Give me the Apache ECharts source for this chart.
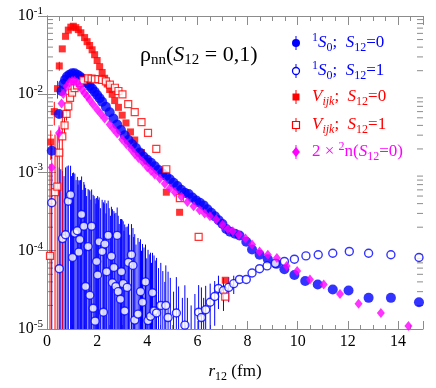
<!DOCTYPE html>
<html>
<head>
<meta charset="utf-8">
<script src="https://cdn.jsdelivr.net/npm/echarts@6/dist/echarts.min.js"></script>
<style>
  html, body { margin: 0; padding: 0; background: #fff; }
  #chart { width: 436px; height: 388px; }
</style>
</head>
<body>
<div id="chart"></div>
<script>
// ---- data (r12 in fm, rho_nn) ----
// 1S0 ; S12=0  (blue filled circles)
const rBF = [0.19, 0.48, 0.58, 0.65, 0.72, 0.8, 0.9, 1.0, 1.1, 1.2, 1.3, 1.4, 1.5, 1.6, 1.7, 1.8, 1.9, 2.0, 2.1, 2.2, 2.35, 2.5, 2.65, 2.8, 2.95, 3.1, 3.25, 3.4, 3.55, 3.7, 3.85, 4.0, 4.15, 4.3, 4.45, 4.6, 4.75, 4.9, 5.05, 5.2, 5.35, 5.5, 5.65, 5.8, 5.95, 6.1, 6.25, 6.4, 6.55, 6.7, 6.85, 7.0, 7.15, 7.3, 7.5, 7.68, 7.95, 8.18, 8.48, 8.81, 9.15, 9.47, 9.87, 10.3, 10.8, 11.4, 12.03, 12.83, 13.72, 14.84];
const vBF = [1.9e-3, 5.6e-3, 1.1e-2, 1.35e-2, 1.53e-2, 1.68e-2, 1.78e-2, 1.85e-2, 1.85e-2, 1.78e-2, 1.7e-2, 1.6e-2, 1.5e-2, 1.38e-2, 1.28e-2, 1.18e-2, 1.08e-2, 9.8e-3, 8.9e-3, 8.0e-3, 6.9e-3, 5.9e-3, 4.9e-3, 4.1e-3, 3.5e-3, 3.0e-3, 2.6e-3, 2.3e-3, 2.05e-3, 1.8e-3, 1.6e-3, 1.45e-3, 1.33e-3, 1.2e-3, 1.08e-3, 9.8e-4, 9.0e-4, 8.2e-4, 7.4e-4, 6.7e-4, 6.0e-4, 5.5e-4, 5.3e-4, 4.8e-4, 4.4e-4, 4.1e-4, 3.8e-4, 3.4e-4, 3.05e-4, 2.75e-4, 2.45e-4, 2.2e-4, 1.9e-4, 1.75e-4, 1.65e-4, 1.57e-4, 1.3e-4, 1.04e-4, 8.9e-5, 7.8e-5, 6.8e-5, 5.8e-5, 4.9e-5, 4.1e-5, 3.7e-5, 3.2e-5, 3.1e-5, 2.5e-5, 2.5e-5, 2.2e-5];
const sBF = [4e-4, 6e-4]; // errors of the first points

// 1S0 ; S12=1  (blue open circles)
const rBO = [0.19, 0.49, 0.62, 0.74, 0.85, 0.94, 1.02, 1.11, 1.21, 1.27, 1.31, 1.38, 1.47, 1.54, 1.64, 1.71, 1.78, 1.84, 1.92, 1.98, 2.02, 2.08, 2.2, 2.25, 2.31, 2.38, 2.44, 2.57, 2.61, 2.67, 2.75, 2.8, 2.84, 2.93, 2.97, 3.04, 3.1, 3.2, 3.25, 3.37, 3.43, 3.5, 3.63, 3.73, 3.81, 3.93, 4.03, 4.13, 4.21, 4.27, 4.37, 4.54, 4.74, 4.83, 5.16, 5.5, 6.05, 6.16, 6.33, 6.51, 6.69, 6.84, 7.04, 7.25, 7.45, 7.68, 7.95, 8.18, 8.48, 8.78, 9.11, 9.47, 9.87, 10.33, 10.82, 11.4, 12.06, 12.83, 13.72, 14.84];
const vBO = [4.1e-4, 5.9e-5, 1.43e-4, 1.6e-4, 4.3e-4, 5.2e-4, 8.2e-5, 1.68e-4, 1.8e-4, 9.6e-5, 1.39e-4, 2.9e-4, 2.06e-4, 3.5e-5, 1.13e-4, 2.7e-5, 2.06e-4, 1.84e-5, 1.26e-5, 7.3e-5, 4.9e-5, 1.3e-4, 9.8e-5, 1.64e-5, 1.22e-4, 5.4e-5, 1.57e-4, 8.5e-5, 3.9e-5, 6.1e-5, 3.5e-5, 1.57e-4, 3.0e-5, 2.4e-5, 5.4e-5, 3.8e-5, 1.7e-5, 3.4e-5, 7.1e-5, 8.9e-5, 6.5e-5, 1.3e-5, 1.55e-5, 3.0e-5, 2.2e-5, 4.0e-5, 1.28e-5, 1.45e-5, 2.9e-5, 1.7e-5, 1.6e-5, 2.0e-5, 2.0e-5, 1.4e-5, 1.6e-5, 1.12e-5, 1.64e-5, 1.4e-5, 1.76e-5, 2.2e-5, 2.6e-5, 3.3e-5, 3.1e-5, 3.4e-5, 3.8e-5, 4.3e-5, 4.3e-5, 5.2e-5, 5.9e-5, 6.4e-5, 6.9e-5, 7.3e-5, 7.8e-5, 8.6e-5, 8.9e-5, 9.3e-5, 9.8e-5, 9.3e-5, 8.9e-5, 8.2e-5];
const sBO = [6e-4, 1.1e-3, 9e-4, 1.0e-3, 8e-4, 7e-4, 9e-4, 8e-4, 7e-4, 7e-4, 6.5e-4, 6e-4, 5.5e-4, 6e-4, 5e-4, 5.5e-4, 4e-4, 5e-4, 4.5e-4, 4e-4, 4.5e-4, 3.5e-4, 3.5e-4, 4e-4, 3.2e-4, 3.5e-4, 2.8e-4, 2.8e-4, 3e-4, 2.6e-4, 2.7e-4, 2e-4, 2.5e-4, 2.3e-4, 2e-4, 2e-4, 2e-4, 1.7e-4, 1.5e-4, 1.3e-4, 1.3e-4, 1.5e-4, 1.3e-4, 1.1e-4, 1e-4, 8e-5, 9e-5, 8e-5, 6.5e-5, 7e-5, 6.5e-5, 5e-5, 4.5e-5, 4e-5, 3e-5, 2.5e-5, 2e-5, 2e-5, 1.8e-5, 1.6e-5, 1.5e-5, 1.5e-5, 1.4e-5, 1.2e-5, 1e-5];
// bars of S12=1 points that fall below 1e-5 (only the upper end shows)
const rBX = [0.55, 0.68, 0.8, 0.98, 1.06, 1.16, 1.24, 1.34, 1.43, 1.5, 1.58, 1.68, 1.75, 1.88, 1.95, 2.05, 2.13, 2.28, 2.35, 2.48, 2.53, 2.7, 2.88, 3.0, 3.07, 3.15, 3.3, 3.46, 3.55, 3.68, 3.77, 3.87, 3.98, 4.08, 4.17, 4.32, 4.45, 4.62, 4.7, 4.92, 5.05, 5.25, 5.4, 5.6, 5.75, 5.9, 6.25];
const hBX = [1.1e-3, 9e-4, 1.2e-3, 9e-4, 1e-3, 8e-4, 7e-4, 8e-4, 6e-4, 7e-4, 5e-4, 6e-4, 4.5e-4, 5e-4, 4e-4, 4.5e-4, 3.5e-4, 4e-4, 3e-4, 3.5e-4, 2.8e-4, 3e-4, 2.2e-4, 2.5e-4, 1.8e-4, 2e-4, 1.6e-4, 1.5e-4, 1.2e-4, 1.3e-4, 1e-4, 1.1e-4, 8e-5, 9e-5, 7e-5, 7.5e-5, 6e-5, 5.5e-5, 4e-5, 4.5e-5, 3e-5, 3.5e-5, 2.5e-5, 2.5e-5, 2e-5, 2.8e-5, 2.5e-5];

// V_ijk ; S12=0  (red filled squares)
const rRF = [0.15, 0.29, 0.42, 0.49, 0.61, 0.74, 0.85, 0.95, 1.05, 1.15, 1.25, 1.35, 1.5, 1.6, 1.7, 1.8, 1.9, 2.0, 2.1, 2.2, 2.3, 2.4, 2.5, 2.6, 2.7, 2.85, 3.0, 3.15, 3.33, 3.5, 3.77, 4.0, 4.76, 5.29, 7.11];
const vRF = [2.45e-3, 6.0e-3, 1.18e-2, 2.3e-2, 3.8e-2, 5.5e-2, 6.6e-2, 7.2e-2, 7.4e-2, 7.1e-2, 6.7e-2, 6.1e-2, 5.3e-2, 4.7e-2, 4.2e-2, 3.7e-2, 3.2e-2, 2.7e-2, 2.25e-2, 1.9e-2, 1.6e-2, 1.35e-2, 1.15e-2, 1.0e-2, 8.3e-3, 6.8e-3, 5.4e-3, 4.3e-3, 3.3e-3, 2.6e-3, 1.8e-3, 1.4e-3, 5.6e-4, 3.1e-4, 4.2e-5];
const sRF = [1e-3, 2e-3, 3e-3, 3e-3];

// V_ijk ; S12=1  (red open squares)
const rRO = [0.12, 0.32, 0.41, 0.49, 0.61, 0.7, 0.78, 0.85, 0.92, 1.0, 1.1, 1.2, 1.31, 1.45, 1.64, 1.78, 1.91, 2.05, 2.2, 2.35, 2.51, 2.71, 2.85, 3.01, 3.24, 3.5, 3.77, 4.03, 4.36, 4.76, 5.3, 6.05, 7.11];
const vRO = [8.6e-5, 5.6e-4, 6.6e-4, 1.79e-3, 2.9e-3, 4.0e-3, 5.6e-3, 7.0e-3, 9.0e-3, 1.05e-2, 1.2e-2, 1.3e-2, 1.39e-2, 1.5e-2, 1.6e-2, 1.58e-2, 1.55e-2, 1.56e-2, 1.52e-2, 1.46e-2, 1.33e-2, 1.21e-2, 1.1e-2, 9.95e-3, 7.5e-3, 5.9e-3, 4.4e-3, 3.2e-3, 2.0e-3, 1.1e-3, 4.7e-4, 1.5e-4, 2.6e-5];
const sRO = [1.2e-3, 2.5e-3, 2.5e-3, 2e-3, 3e-3, 1e-3, 1e-3];

// 2 x 2n(S12=0)  (magenta diamonds)
const rMD = [0.19, 0.48, 0.58, 0.65, 0.78, 0.9, 1.0, 1.1, 1.2, 1.3, 1.4, 1.5, 1.6, 1.7, 1.84, 2.0, 2.15, 2.3, 2.5, 2.65, 2.8, 3.0, 3.17, 3.35, 3.5, 3.65, 3.83, 4.0, 4.15, 4.3, 4.5, 4.7, 4.9, 5.1, 5.36, 5.6, 5.85, 6.09, 6.29, 6.5, 6.75, 7.0, 7.21, 7.41, 7.65, 7.92, 8.18, 8.48, 8.81, 9.17, 9.56, 9.98, 10.49, 11.04, 11.69, 12.43, 13.32, 14.42];
const vMD = [1.16e-3, 3.2e-3, 7.6e-3, 1.01e-2, 1.26e-2, 1.42e-2, 1.48e-2, 1.48e-2, 1.41e-2, 1.28e-2, 1.14e-2, 1.03e-2, 9.4e-3, 8.5e-3, 7.4e-3, 6.4e-3, 5.6e-3, 4.9e-3, 4.1e-3, 3.6e-3, 3.15e-3, 2.65e-3, 2.3e-3, 1.98e-3, 1.72e-3, 1.53e-3, 1.35e-3, 1.17e-3, 1.05e-3, 9.4e-4, 8.3e-4, 7.2e-4, 6.3e-4, 5.6e-4, 4.9e-4, 4.2e-4, 3.7e-4, 3.3e-4, 3.0e-4, 2.75e-4, 2.5e-4, 2.15e-4, 1.9e-4, 1.78e-4, 1.6e-4, 1.43e-4, 1.2e-4, 9.8e-5, 8.9e-5, 8.1e-5, 6.4e-5, 5.5e-5, 4.3e-5, 3.7e-5, 2.8e-5, 2.1e-5, 1.6e-5, 1.09e-5];
const sMD = [4e-4, 8e-4];

const decades = [1e-5, 1e-4, 1e-3, 1e-2, 1e-1];

// ---- helpers ----
const FONT = "Liberation Serif";
const BLUE = "#0000ff", RED = "#ff0000", MAG = "#ff00ff";
const YMIN = 1e-5;

function pts(r, v) {
  return r.map((x, i) => [x, v[i]]);
}
function bars(r, v, s) {
  return s.map((e, i) => [r[i], Math.max(v[i] - e, YMIN / 10), v[i] + e]);
}
function errSeries(data, color) {
  return {
    type: "custom",
    clip: true,
    silent: true,
    data: data,
    encode: { x: 0, y: [1, 2] },
    renderItem: function (params, api) {
      const a = api.coord([api.value(0), api.value(1)]);
      const b = api.coord([api.value(0), api.value(2)]);
      return {
        type: "line",
        shape: { x1: a[0], y1: a[1], x2: b[0], y2: b[1] },
        style: { stroke: color, lineWidth: 1 }
      };
    }
  };
}

// minor log ticks 2..9 x 10^k drawn on both vertical edges
const minorLog = [];
decades.slice(0, -1).forEach(d => {
  for (let k = 2; k <= 9; k++) minorLog.push([0, d * k]);
});

const rich = {
  n: { fontFamily: FONT, fontSize: 17, fontWeight: "normal" },
  i: { fontFamily: FONT, fontSize: 17, fontStyle: "italic", fontWeight: "normal" },
  sub: { fontFamily: FONT, fontSize: 12, fontWeight: "normal", padding: [10, 0, 0, 0] },
  isub: { fontFamily: FONT, fontSize: 12, fontStyle: "italic", fontWeight: "normal", padding: [10, 0, 0, 0] },
  sup: { fontFamily: FONT, fontSize: 12, fontWeight: "normal", padding: [0, 0, 11, 0] }
};
function richColored(color) {
  const out = {};
  Object.keys(rich).forEach(k => { out[k] = Object.assign({}, rich[k], { color: color }); });
  return out;
}

const legendItems = [
  { text: "{sup|1}{i|S}{sub|0}{n|;  }{i|S}{sub|12}{n|=0}", color: BLUE, symbol: "circle", open: false },
  { text: "{sup|1}{i|S}{sub|0}{n|;  }{i|S}{sub|12}{n|=1}", color: BLUE, symbol: "circle", open: true },
  { text: "{i|V}{isub|ijk}{n|;  }{i|S}{sub|12}{n|=0}", color: RED, symbol: "rect", open: false },
  { text: "{i|V}{isub|ijk}{n|;  }{i|S}{sub|12}{n|=1}", color: RED, symbol: "rect", open: true },
  { text: "{n|2 × }{sup|2}{n|n(}{i|S}{sub|12}{n|=0)}", color: MAG, symbol: "diamond", open: false }
];
const legendY = [43, 71, 97, 125, 152];

const legendGraphics = [];
legendItems.forEach((it, k) => {
  const y = legendY[k], x = 296;
  legendGraphics.push({ type: "line", shape: { x1: x, y1: y - 7, x2: x, y2: y + 7 }, style: { stroke: it.color, lineWidth: 1 } });
  let shape;
  const fill = it.open ? "#fff" : it.color;
  if (it.symbol === "circle") {
    shape = { type: "circle", shape: { cx: x, cy: y, r: it.open ? 3.5 : 4 }, style: { fill: fill, stroke: it.color, lineWidth: it.open ? 1.3 : 0 } };
  } else if (it.symbol === "rect") {
    shape = { type: "rect", shape: { x: x - 3.5, y: y - 3.5, width: 7, height: 7 }, style: { fill: fill, stroke: it.color, lineWidth: it.open ? 1.2 : 0 } };
  } else {
    shape = { type: "polygon", shape: { points: [[x, y - 5], [x + 4, y], [x, y + 5], [x - 4, y]] }, style: { fill: fill } };
  }
  legendGraphics.push(shape);
  legendGraphics.push({ type: "text", x: 312, y: y, style: { text: it.text, rich: richColored(it.color), verticalAlign: "middle", fill: it.color } });
});

const axisGray = "#8c8c8c";
function xAx(pos, labels) {
  return {
    type: "value", position: pos, min: 0, max: 15, interval: 2,
    axisLine: { lineStyle: { color: axisGray, width: 1 } },
    axisTick: { inside: true, length: pos === "top" ? 9 : 8, lineStyle: { color: axisGray } },
    minorTick: { show: true, splitNumber: 4, length: pos === "top" ? 5 : 4, lineStyle: { color: axisGray } },
    splitLine: { show: false },
    axisLabel: { show: labels, showMaxLabel: false, color: "#000", fontFamily: FONT, fontSize: 16, margin: 5 },
    name: labels ? "{i|r}{sub|12}{n| (fm)}" : "",
    nameLocation: "middle", nameGap: 32,
    nameTextStyle: { rich: richColored("#000") }
  };
}
function yAx(pos, labels) {
  return {
    type: "log", logBase: 10, position: pos, min: 1e-5, max: 1e-1,
    axisLine: { lineStyle: { color: axisGray, width: 1 } },
    axisTick: { inside: true, length: 9, lineStyle: { color: axisGray } },
    splitLine: { show: false },
    axisLabel: {
      show: labels, margin: 4,
      formatter: v => "{b|10}{sup|" + Math.round(Math.log10(v)) + "}",
      rich: {
        b: { fontFamily: FONT, fontSize: 16, color: "#000" },
        sup: { fontFamily: FONT, fontSize: 11, color: "#000", padding: [0, 0, 10, 0] }
      }
    }
  };
}

const chart = echarts.init(document.getElementById("chart"), null, { renderer: "canvas" });
chart.setOption({
  animation: false,
  backgroundColor: "#fff",
  grid: { left: 47, right: 13, top: 16, bottom: 50 },
  xAxis: [xAx("bottom", true), xAx("top", false)],
  yAxis: [yAx("left", true), yAx("right", false)],
  title: {
    text: "{r|ρ}{s|nn}{n|(}{i|S}{s|12}{n| = 0,1)}",
    left: 135, top: 37,
    textStyle: {
      fontWeight: "normal",
      rich: {
        r: { fontFamily: FONT, fontSize: 22, fontWeight: "normal", color: "#000" },
        n: { fontFamily: FONT, fontSize: 22, fontWeight: "normal", color: "#000" },
        i: { fontFamily: FONT, fontSize: 22, fontWeight: "normal", fontStyle: "italic", color: "#000" },
        s: { fontFamily: FONT, fontSize: 15, fontWeight: "normal", color: "#000", padding: [11, 0, 0, 0] }
      }
    }
  },
  graphic: legendGraphics,
  series: [
    {
      type: "custom", silent: true, clip: false, data: minorLog,
      renderItem: function (params, api) {
        const cs = params.coordSys;
        const y = api.coord([0, api.value(1)])[1];
        return {
          type: "group",
          children: [
            { type: "line", shape: { x1: cs.x, y1: y, x2: cs.x + 6, y2: y }, style: { stroke: axisGray, lineWidth: 1 } },
            { type: "line", shape: { x1: cs.x + cs.width - 6, y1: y, x2: cs.x + cs.width, y2: y }, style: { stroke: axisGray, lineWidth: 1 } }
          ]
        };
      }
    },
    errSeries(rBX.map((x, i) => [x, YMIN / 10, hBX[i]]), BLUE),
    errSeries(bars(rBO, vBO, sBO), BLUE),
    errSeries(bars(rRO, vRO, sRO), RED),
    errSeries(bars(rRF, vRF, sRF), RED),
    errSeries(bars(rMD, vMD, sMD), MAG),
    errSeries(bars(rBF, vBF, sBF), BLUE),
    { type: "scatter", data: pts(rRF, vRF), symbol: "rect", symbolSize: 7, itemStyle: { color: RED }, z: 3 },
    { type: "scatter", data: pts(rBF, vBF), symbol: "circle", symbolSize: 10, itemStyle: { color: BLUE }, z: 3 },
    { type: "scatter", data: pts(rBO, vBO), symbol: "circle", symbolSize: 8, itemStyle: { color: "#fff", borderColor: BLUE, borderWidth: 1.4 }, z: 3 },
    { type: "scatter", data: pts(rRO, vRO), symbol: "rect", symbolSize: 7, itemStyle: { color: "#fff", borderColor: RED, borderWidth: 1.2 }, z: 3 },
    { type: "scatter", data: pts(rMD, vMD), symbol: "diamond", symbolSize: [8, 10], itemStyle: { color: MAG }, z: 3 }
  ]
});
</script>
</body>
</html>
